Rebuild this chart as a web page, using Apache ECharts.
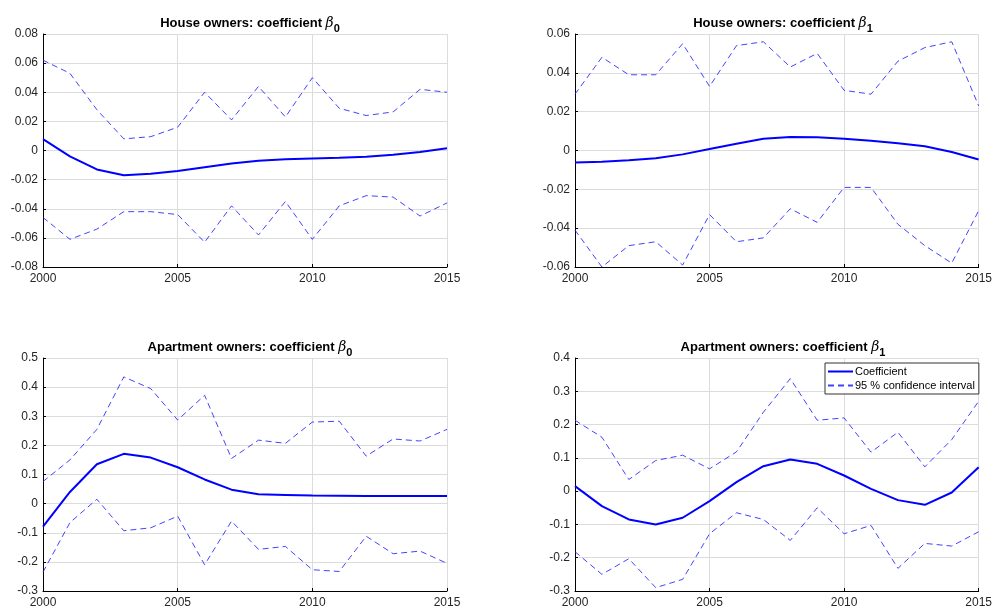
<!DOCTYPE html>
<html>
<head>
<meta charset="utf-8">
<script src="https://cdn.jsdelivr.net/npm/echarts@6/dist/echarts.min.js"></script>
<style>
  html, body { margin: 0; padding: 0; background: #fff; }
  #main { width: 995px; height: 610px; }
</style>
</head>
<body>
<div id="main"></div>
<script>
var years = [2000, 2001, 2002, 2003, 2004, 2005, 2006, 2007, 2008, 2009, 2010, 2011, 2012, 2013, 2014, 2015];

// house owners, beta 0
var houseB0 = [0.0078, -0.004, -0.013, -0.017, -0.016, -0.014, -0.0115, -0.009, -0.007, -0.006, -0.0055, -0.005, -0.0043, -0.003, -0.001, 0.0015];
var houseB0Up = [0.062, 0.053, 0.028, 0.008, 0.0095, 0.016, 0.040, 0.021, 0.044, 0.023, 0.050, 0.029, 0.024, 0.0265, 0.042, 0.040];
var houseB0Lo = [-0.046, -0.061, -0.054, -0.042, -0.042, -0.044, -0.063, -0.038, -0.058, -0.035, -0.061, -0.038, -0.031, -0.032, -0.045, -0.036];

// house owners, beta 1
var houseB1 = [-0.0062, -0.0058, -0.005, -0.004, -0.002, 0.0008, 0.0035, 0.006, 0.007, 0.0068, 0.006, 0.005, 0.0037, 0.0022, -0.0008, -0.0046];
var houseB1Up = [0.029, 0.048, 0.039, 0.039, 0.055, 0.033, 0.054, 0.056, 0.043, 0.050, 0.031, 0.029, 0.046, 0.053, 0.056, 0.023];
var houseB1Lo = [-0.041, -0.060, -0.049, -0.047, -0.059, -0.033, -0.047, -0.045, -0.030, -0.037, -0.019, -0.019, -0.038, -0.049, -0.058, -0.031];

// apartment owners, beta 0
var aptB0 = [-0.079, 0.040, 0.135, 0.171, 0.158, 0.125, 0.083, 0.048, 0.032, 0.030, 0.028, 0.027, 0.026, 0.026, 0.026, 0.026];
var aptB0Up = [0.076, 0.150, 0.255, 0.435, 0.395, 0.287, 0.372, 0.155, 0.218, 0.207, 0.280, 0.283, 0.163, 0.222, 0.215, 0.255];
var aptB0Lo = [-0.235, -0.065, 0.015, -0.093, -0.083, -0.043, -0.210, -0.060, -0.157, -0.147, -0.227, -0.233, -0.112, -0.172, -0.163, -0.205];

// apartment owners, beta 1
var aptB1 = [0.015, -0.045, -0.085, -0.100, -0.080, -0.030, 0.027, 0.075, 0.095, 0.082, 0.047, 0.007, -0.027, -0.041, -0.004, 0.072];
var aptB1Up = [0.213, 0.162, 0.035, 0.092, 0.108, 0.067, 0.118, 0.237, 0.338, 0.213, 0.220, 0.117, 0.177, 0.073, 0.155, 0.270];
var aptB1Lo = [-0.182, -0.250, -0.203, -0.290, -0.265, -0.128, -0.065, -0.085, -0.148, -0.050, -0.128, -0.103, -0.232, -0.157, -0.165, -0.122];

var yRanges = [[-0.08, 0.08, 0.02], [-0.06, 0.06, 0.02], [-0.3, 0.5, 0.1], [-0.3, 0.4, 0.1]];
var titles = ['House owners: coefficient ', 'House owners: coefficient ', 'Apartment owners: coefficient ', 'Apartment owners: coefficient '];
var subs = ['0', '1', '0', '1'];
var panels = [
    [houseB0, houseB0Up, houseB0Lo],
    [houseB1, houseB1Up, houseB1Lo],
    [aptB0, aptB0Up, aptB0Lo],
    [aptB1, aptB1Up, aptB1Lo]
];

var font = 'Liberation Sans, Arial, sans-serif';
var grids = [
    { left: 43, right: 548, top: 34, bottom: 343 },
    { left: 575, right: 14, top: 34, bottom: 343 },
    { left: 43, right: 548, top: 358, bottom: 19 },
    { left: 575, right: 14, top: 358, bottom: 19 }
];
var titlePos = [[245, 8], [778, 8], [245, 332], [778, 332]];

function pairs(arr) {
    return years.map(function (y, i) { return [y, arr[i]]; });
}

var xAxes = [], yAxes = [], series = [], titleList = [];
grids.forEach(function (g, i) {
    xAxes.push({
        type: 'value', gridIndex: i, min: 2000, max: 2015, interval: 5,
        axisLine: { onZero: false, lineStyle: { color: '#000', width: 1 } },
        axisTick: { inside: true, length: 3, lineStyle: { color: '#000' } },
        axisLabel: {
            color: '#262626', fontFamily: font, fontSize: 12, margin: 6, showMaxLabel: true,
            formatter: function (v) { return String(v); }
        },
        splitLine: { show: true, lineStyle: { color: '#dcdcdc', width: 1 } }
    });
    yAxes.push({
        type: 'value', gridIndex: i, min: yRanges[i][0], max: yRanges[i][1], interval: yRanges[i][2],
        axisLine: { show: true, onZero: false, lineStyle: { color: '#000', width: 1 } },
        axisTick: { show: true, inside: true, length: 3, lineStyle: { color: '#000' } },
        axisLabel: {
            color: '#262626', fontFamily: font, fontSize: 12, margin: 5,
            formatter: function (v) { return String(+v.toFixed(4)); }
        },
        splitLine: { show: true, lineStyle: { color: '#dcdcdc', width: 1 } }
    });
    titleList.push({
        text: '{t|' + titles[i] + '}{b|β}{s|' + subs[i] + '}',
        left: titlePos[i][0], top: titlePos[i][1], textAlign: 'center',
        textStyle: {
            rich: {
                t: { fontFamily: font, fontWeight: 'bold', fontSize: 13, color: '#000' },
                b: { fontFamily: 'DejaVu Serif', fontStyle: 'italic', fontWeight: 'normal', fontSize: 14, color: '#000' },
                s: { fontFamily: font, fontWeight: 'bold', fontSize: 11, color: '#000', padding: [10, 0, 0, 0] }
            }
        }
    });
    var d = panels[i];
    series.push({
        name: 'Coefficient', type: 'line', xAxisIndex: i, yAxisIndex: i,
        data: pairs(d[0]), symbol: 'none', z: 3,
        lineStyle: { color: '#0000ff', width: 2 }, itemStyle: { color: '#0000ff' }
    });
    [d[1], d[2]].forEach(function (ci) {
        series.push({
            name: '95 % confidence interval', type: 'line', xAxisIndex: i, yAxisIndex: i,
            data: pairs(ci), symbol: 'none',
            lineStyle: { color: '#2222ff', width: 1, type: [6, 4], opacity: 0.85 },
            itemStyle: { color: '#0000ff' }
        });
    });
});

var myChart = echarts.init(document.getElementById('main'));
myChart.setOption({
    animation: false,
    backgroundColor: '#fff',
    title: titleList,
    grid: grids,
    xAxis: xAxes,
    yAxis: yAxes,
    legend: {
        data: ['Coefficient', '95 % confidence interval'],
        orient: 'vertical', left: 825, top: 363,
        itemWidth: 25, itemHeight: 10, itemGap: 3,
        padding: [3, 4, 3, 2],
        itemStyle: { opacity: 0 },
        backgroundColor: '#fff', borderColor: '#333', borderWidth: 1,
        textStyle: { fontFamily: font, fontSize: 11, color: '#000', padding: [0, 0, 0, -3] }
    },
    series: series
});
</script>
</body>
</html>
